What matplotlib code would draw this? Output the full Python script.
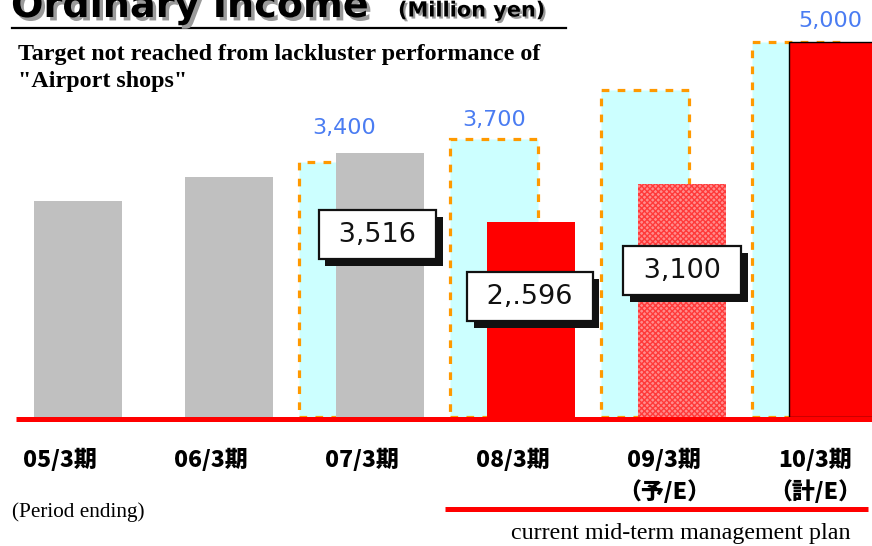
import matplotlib
matplotlib.use("Agg")
import matplotlib.pyplot as plt
import matplotlib.patheffects as pe
from matplotlib.lines import Line2D
import numpy as np

# ---------------- data ----------------
categories = ["05/3期", "06/3期", "07/3期", "08/3期", "09/3期\n（予/E）", "10/3期\n（計/E）"]
actual = [2870, 3200, 3516, 2596, 3100, 5000]
targets = [np.nan, np.nan, 3400, 3700, 4350, 5000]
target_labels = ["", "", "3,400", "3,700", "", "5,000"]
box_labels = ["", "", "3,516", "2,.596", "3,100", ""]

W, H = 872, 546
fig = plt.figure(figsize=(W / 100, H / 100), dpi=100)
fig.patch.set_facecolor("white")

px_per_unit = 0.0751
base_px = 417
ax = fig.add_axes([0, (H - base_px) / H, 1, base_px / H])
ax.set_xlim(-78 / 151, (W - 78) / 151)
ax.set_ylim(0, base_px / px_per_unit)
for s in ax.spines.values():
    s.set_visible(False)
ax.set_yticks([])

x = np.arange(len(categories))
bw = 88 / 151
toff = -37 / 151

# target (plan) bars: cyan with dashed orange outline
ax.bar(x + toff, targets, width=bw, color="#ccffff", edgecolor="#ff9900",
       linewidth=2.3, linestyle=(0, (2.4, 2.6)), zorder=1)

# actual bars
colors = ["#c0c0c0", "#c0c0c0", "#c0c0c0", "#ff0000", "#ff8c8c", "#ff0000"]
bars = ax.bar(x, actual, width=bw, color=colors, linewidth=0, zorder=2)
bars[4].set_edgecolor("#ff3a3a")
bars[4].set_hatch("xxxxxx")
bars[4].set_linewidth(0)
bars[5].set_edgecolor("black")
bars[5].set_linewidth(1.0)

# baseline
ax.plot([(16 - 78) / 151, (W - 78) / 151], [-25, -25], color="#ff0000",
        lw=3.6, solid_capstyle="butt", clip_on=False, zorder=3)

# target value labels
label_off = [(0, 0), (0, 0), (1, 24), (0, 14), (0, 0), (25, 15)]
for i, (t, lab) in enumerate(zip(targets, target_labels)):
    if lab:
        ax.annotate(lab, (x[i] + toff, t), xytext=label_off[i], textcoords="offset points",
                    ha="center", va="center", fontsize=16, color="#4a7cf2",
                    family="DejaVu Sans", zorder=5)

# boxed actual labels with shadow
box_y = [0, 0, 2430, 1600, 1950, 0]
box_dx = [0, 0, -2, -1, 0, 0]
for i, lab in enumerate(box_labels):
    if not lab:
        continue
    t = ax.annotate(" " + lab + " ", (x[i], box_y[i]), xytext=(box_dx[i], 0),
                    textcoords="offset points",
                    ha="center", va="center", fontsize=19.5,
                    color="#111111", family="DejaVu Sans",
                    bbox=dict(boxstyle="square,pad=0.42", fc="white",
                              ec="#111111", lw=1.6),
                    zorder=7)
    t.get_bbox_patch().set_path_effects(
        [pe.SimplePatchShadow(offset=(5, -5), shadow_rgbFace="#111111", alpha=1),
         pe.Normal()])

# category labels
ax.set_xticks(x - 0.12)
ax.set_xticklabels(categories, fontsize=16.5, fontweight="black",
                   family=["Noto Sans CJK JP", "DejaVu Sans"], linespacing=1.45)
ax.tick_params(axis="x", length=0, pad=23)

# ---------------- texts ----------------
def fx(px):
    return px / W

def fy(py):
    return 1 - py / H

fig.text(fx(11), fy(17), "Ordinary Income", fontsize=27.5, fontweight="heavy",
         family="DejaVu Sans", va="baseline", ha="left",
         path_effects=[pe.SimplePatchShadow(offset=(2.5, -2.5), shadow_rgbFace="#9a9a9a", alpha=1),
                       pe.Normal()])
fig.text(fx(398), fy(16.5), "(Million yen)", fontsize=15, fontweight="heavy",
         family="DejaVu Sans", va="baseline", ha="left",
         path_effects=[pe.SimplePatchShadow(offset=(1.5, -1.5), shadow_rgbFace="#9a9a9a", alpha=1),
                       pe.Normal()])
fig.add_artist(Line2D([fx(12), fx(566)], [fy(28), fy(28)], color="black", lw=1.6))

fig.text(fx(18), fy(44), "Target not reached from lackluster performance of\n\"Airport shops\"",
         fontsize=17.3, fontweight="bold", family="Liberation Serif",
         va="top", ha="left", linespacing=1.38)

fig.text(fx(12), fy(512), "(Period ending)", fontsize=15.3, family="Liberation Serif",
         va="center", ha="left")
fig.add_artist(Line2D([fx(445), fx(868)], [fy(509), fy(509)], color="#ff0000", lw=3.6,
                      solid_capstyle="butt"))
fig.text(fx(851), fy(534), "current mid-term management plan", fontsize=17.3,
         family="Liberation Serif", va="center", ha="right")

fig.savefig("out.png", dpi=100, facecolor="white")
